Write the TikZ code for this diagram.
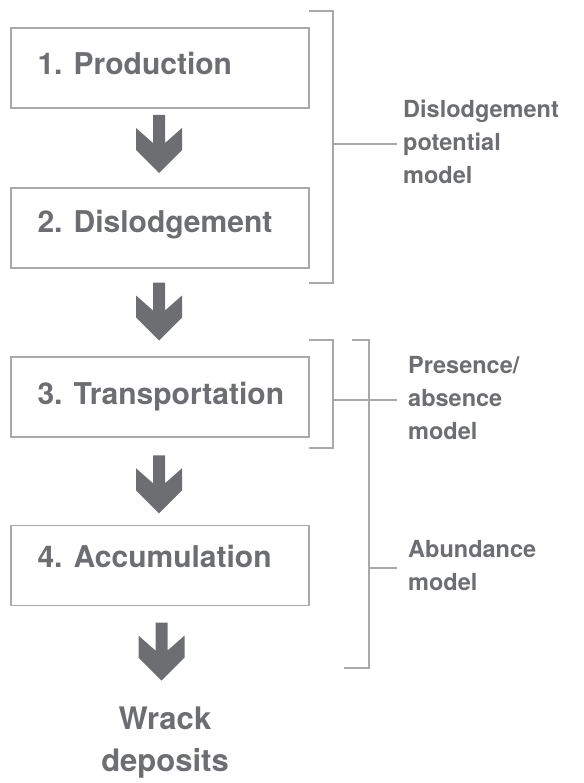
\documentclass[tikz,border=0pt]{standalone}
\usepackage{fontspec}
\setmainfont{TeX Gyre Heros}
\usetikzlibrary{calc}
\definecolor{txtgray}{HTML}{6D6E71}
\definecolor{linegray}{HTML}{A7A9AC}
\tikzset{
  stepbox/.style={draw=linegray, line width=1.3pt, minimum width=298pt, minimum height=80pt, inner sep=0pt},
  steptext/.style={anchor=base west, inner sep=0pt, text=txtgray, font=\fontsize{30}{34}\selectfont\bfseries},
  modeltext/.style={anchor=north west, inner sep=0pt, text=txtgray, align=left, font=\fontsize{23.5}{33}\selectfont\bfseries},
  bracket/.style={draw=linegray, line width=1.3pt},
  blockarrow/.pic={\fill[txtgray] (-6,-29) -- (6,-29) -- (6,-1) -- (23,-16) -- (23,6) -- (0,29) -- (-23,6) -- (-23,-16) -- (-6,-1) -- cycle;}
}
\begin{document}
\begin{tikzpicture}[x=1pt,y=-1pt]
\useasboundingbox (0,0) rectangle (583,783);
% boxes
\node[stepbox] (b1) at (160,68) {};
\node[stepbox] (b2) at (160,228) {};
\node[stepbox] (b3) at (160,397) {};
\node[stepbox] (b4) at (160,565.5) {};
\node[steptext] (t1) at ($(b1.north west)+(27,47)$) {1. Production};
\node[steptext] (t2) at ($(b2.north west)+(27,45)$) {2. Dislodgement};
\node[steptext] (t3) at ($(b3.north west)+(27,48)$) {3. Transportation};
\node[steptext] (t4) at ($(b4.north west)+(27,43)$) {4. Accumulation};
% final text
\node[anchor=north, inner sep=0pt, text=txtgray, align=center, font=\fontsize{31}{42}\selectfont\bfseries] (w) at (165,707) {Wrack\\deposits};
% arrows
\pic at ($(b1.south)!0.5!(b2.north)+(-1,-4)$) {blockarrow};
\pic at ($(b2.south)!0.5!(b3.north)+(-1,-1)$) {blockarrow};
\pic at ($(b3.south)!0.5!(b4.north)+(-1,3)$) {blockarrow};
\pic at ($(b4.south)!0.5!(w.north)+(-1,-5)$) {blockarrow};
% labels
\node[modeltext] (l1) at (403,100) {Dislodgement\\potential\\model};
\node[modeltext] (l2) at (408,356) {Presence/\\absence\\model};
\node[modeltext] (l3) at (408,540) {Abundance\\model};
% brackets
\coordinate (k1) at (333,144);
\coordinate (k2) at (333,400);
\coordinate (k3) at (369,568);
\draw[bracket] (309,11) -- (333,11) -- (333,283) -- (309,283);
\draw[bracket] (309,340) -- (333,340) -- (333,448) -- (309,448);
\draw[bracket] (352,340) -- (369,340) -- (369,668) -- (344,668);
\draw[bracket] (k1) -- ([xshift=-6pt]k1 -| l1.west);
\draw[bracket] (k2) -- ([xshift=-11pt]k2 -| l2.west);
\draw[bracket] (k3) -- ([xshift=-11pt]k3 -| l3.west);
\end{tikzpicture}
\end{document}
